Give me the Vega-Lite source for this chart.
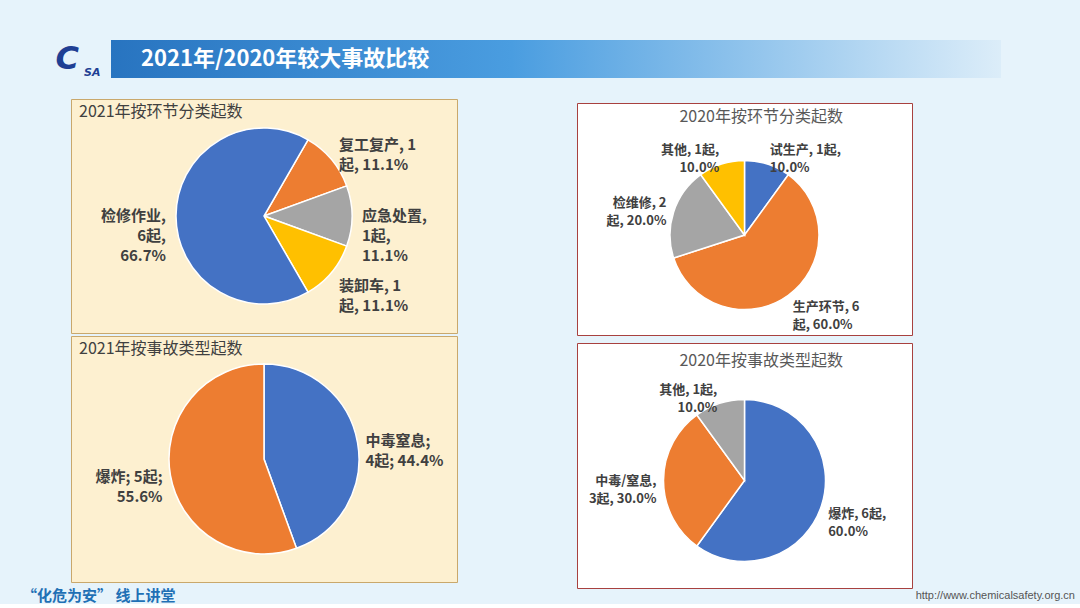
{
  "$schema": "https://vega.github.io/schema/vega-lite/v6.json",
  "background": "#e6f3fb",
  "padding": {"left": 22, "top": 40, "right": 0, "bottom": 0},
  "config": {"view": {"stroke": null}, "font": "Noto Sans CJK SC"},
  "spacing": 20,
  "resolve": {"scale": {"color": "independent", "theta": "independent", "x": "independent", "y": "independent"}},
  "vconcat": [
    {
      "hconcat": [
        {
          "width": 78, "height": 38,
          "data": {"values": [{"c": "C", "s": "SA"}]},
          "layer": [
            {"mark": {"type": "text", "fontSize": 32, "fontWeight": "bold", "fontStyle": "italic", "color": "#1f3f94", "align": "center", "baseline": "middle", "font": "DejaVu Sans"},
             "encoding": {"text": {"field": "c"}, "x": {"datum": 0.58, "scale": {"domain": [0, 1]}, "axis": null}, "y": {"datum": 0.5, "scale": {"domain": [0, 1]}, "axis": null}}},
            {"mark": {"type": "text", "fontSize": 11, "fontWeight": "bold", "fontStyle": "italic", "color": "#1f3f94", "align": "center", "baseline": "bottom", "font": "DejaVu Sans"},
             "encoding": {"text": {"field": "s"}, "x": {"datum": 0.9, "scale": {"domain": [0, 1]}, "axis": null}, "y": {"datum": 0, "scale": {"domain": [0, 1]}, "axis": null}}}
          ]
        },
        {
          "width": 890, "height": 38,
          "data": {"values": [{"t": "2021年/2020年较大事故比较"}]},
          "layer": [
            {"mark": {"type": "rect", "color": {"gradient": "linear", "x1": 0, "x2": 1, "y1": 0, "y2": 0, "stops": [{"offset": 0, "color": "#2874c0"}, {"offset": 0.45, "color": "#4a9de0"}, {"offset": 1, "color": "#dcedf9"}]}}, "encoding": {}},
            {"mark": {"type": "text", "fontSize": 22, "fontWeight": "bold", "color": "white", "align": "left", "baseline": "middle", "dx": 30},
             "encoding": {"text": {"field": "t"}, "x": {"datum": 0, "scale": {"domain": [0, 1]}, "axis": null}, "y": {"datum": 0.5, "scale": {"domain": [0, 1]}, "axis": null}}}
          ]
        }
      ],
      "spacing": 10,
      "resolve": {"scale": {"x": "independent", "y": "independent"}}
    },
    {
      "spacing": 0,
      "resolve": {"scale": {"color": "independent", "theta": "independent", "x": "independent", "y": "independent"}},
      "vconcat": [
        {
          "spacing": 0,
          "resolve": {"scale": {"color": "independent", "theta": "independent", "x": "independent", "y": "independent"}},
          "hconcat": [
            {"width": 48, "height": 1, "data": {"values": [{}]}, "mark": {"type": "rect", "opacity": 0}, "encoding": {}},
            {
              "spacing": 1,
              "resolve": {"scale": {"color": "independent", "theta": "independent", "x": "independent", "y": "independent"}},
              "vconcat": [
                {
                  "width": 386, "height": 234,
                  "view": {"fill": "#fdf0d0", "stroke": "#c9a86c", "strokeWidth": 1},
                  "data": {"values": [
                    {"category": "复工复产", "count": 1, "label": "复工复产, 1\n起, 11.1%", "order": 1},
                    {"category": "应急处置", "count": 1, "label": "应急处置,\n1起,\n11.1%", "order": 2},
                    {"category": "装卸车", "count": 1, "label": "装卸车, 1\n起, 11.1%", "order": 3},
                    {"category": "检修作业", "count": 6, "label": "检修作业,\n6起,\n66.7%", "order": 4}
                  ]},
                  "encoding": {
                    "theta": {"field": "count", "type": "quantitative", "stack": true, "scale": {"range": [0.5236, 6.8068]}},
                    "order": {"field": "order", "type": "quantitative"}
                  },
                  "layer": [
                    {"mark": {"type": "arc", "outerRadius": 88, "stroke": "white", "strokeWidth": 1.5},
                     "encoding": {"color": {"field": "category", "type": "nominal", "legend": null, "scale": {"domain": ["复工复产", "应急处置", "装卸车", "检修作业"], "range": ["#ED7D31", "#A5A5A5", "#FFC000", "#4472C4"]}}}},
                    {"mark": {"type": "text", "radius": 98, "fontSize": 15, "fontWeight": "bold", "color": "#404040", "lineBreak": "\n", "lineHeight": 20,
                              "align": {"expr": "sin(PI/6 + PI*(datum.count_start+datum.count_end)/9) > 0.3 ? 'left' : (sin(PI/6 + PI*(datum.count_start+datum.count_end)/9) < -0.3 ? 'right' : 'center')"},
                              "baseline": {"expr": "cos(PI/6 + PI*(datum.count_start+datum.count_end)/9) > 0.3 ? 'bottom' : (cos(PI/6 + PI*(datum.count_start+datum.count_end)/9) < -0.3 ? 'top' : 'middle')"}},
                     "encoding": {"text": {"field": "label"}, "detail": {"field": "category"}}},
                    {"data": {"values": [{"t": "2021年按环节分类起数"}]},
                     "mark": {"type": "text", "fontSize": 16, "color": "#404040", "align": "left", "baseline": "top", "dx": 8, "dy": 5},
                     "encoding": {"text": {"field": "t"}, "theta": null, "order": null, "x": {"datum": 0, "scale": {"domain": [0, 1]}, "axis": null}, "y": {"datum": 1, "scale": {"domain": [0, 1]}, "axis": null}}}
                  ]
                },
                {
                  "width": 386, "height": 246,
                  "view": {"fill": "#fdf0d0", "stroke": "#c9a86c", "strokeWidth": 1},
                  "data": {"values": [
                    {"category": "中毒窒息", "count": 4, "label": "中毒窒息;\n4起; 44.4%", "order": 1},
                    {"category": "爆炸", "count": 5, "label": "爆炸; 5起;\n55.6%", "order": 2}
                  ]},
                  "encoding": {
                    "theta": {"field": "count", "type": "quantitative", "stack": true},
                    "order": {"field": "order", "type": "quantitative"}
                  },
                  "layer": [
                    {"mark": {"type": "arc", "outerRadius": 95, "stroke": "white", "strokeWidth": 1.5},
                     "encoding": {"color": {"field": "category", "type": "nominal", "legend": null, "scale": {"domain": ["中毒窒息", "爆炸"], "range": ["#4472C4", "#ED7D31"]}}}},
                    {"mark": {"type": "text", "radius": 103, "fontSize": 15, "fontWeight": "bold", "color": "#404040", "lineBreak": "\n", "lineHeight": 20,
                              "align": {"expr": "sin(PI*(datum.count_start+datum.count_end)/9) > 0.3 ? 'left' : (sin(PI*(datum.count_start+datum.count_end)/9) < -0.3 ? 'right' : 'center')"},
                              "baseline": {"expr": "cos(PI*(datum.count_start+datum.count_end)/9) > 0.3 ? 'bottom' : (cos(PI*(datum.count_start+datum.count_end)/9) < -0.3 ? 'top' : 'middle')"}},
                     "encoding": {"text": {"field": "label"}, "detail": {"field": "category"}}},
                    {"data": {"values": [{"t": "2021年按事故类型起数"}]},
                     "mark": {"type": "text", "fontSize": 16, "color": "#404040", "align": "left", "baseline": "top", "dx": 8, "dy": 5},
                     "encoding": {"text": {"field": "t"}, "theta": null, "order": null, "x": {"datum": 0, "scale": {"domain": [0, 1]}, "axis": null}, "y": {"datum": 1, "scale": {"domain": [0, 1]}, "axis": null}}}
                  ]
                }
              ]
            },
            {"width": 118, "height": 1, "data": {"values": [{}]}, "mark": {"type": "rect", "opacity": 0}, "encoding": {}},
            {
              "spacing": 0,
              "resolve": {"scale": {"color": "independent", "theta": "independent", "x": "independent", "y": "independent"}},
              "vconcat": [
                {"width": 1, "height": 3, "data": {"values": [{}]}, "mark": {"type": "rect", "opacity": 0}, "encoding": {}},
                {
                  "width": 335, "height": 232,
                  "view": {"fill": "white", "stroke": "#a8413f", "strokeWidth": 1},
                  "data": {"values": [
                    {"category": "试生产", "count": 1, "label": "试生产, 1起,\n10.0%", "order": 1},
                    {"category": "生产环节", "count": 6, "label": "生产环节, 6\n起, 60.0%", "order": 2},
                    {"category": "检维修", "count": 2, "label": "检维修, 2\n起, 20.0%", "order": 3},
                    {"category": "其他", "count": 1, "label": "其他, 1起,\n10.0%", "order": 4}
                  ]},
                  "encoding": {
                    "theta": {"field": "count", "type": "quantitative", "stack": true},
                    "order": {"field": "order", "type": "quantitative"}
                  },
                  "layer": [
                    {"mark": {"type": "arc", "outerRadius": 74.5, "stroke": "white", "strokeWidth": 1.5, "yOffset": 16},
                     "encoding": {"color": {"field": "category", "type": "nominal", "legend": null, "scale": {"domain": ["试生产", "生产环节", "检维修", "其他"], "range": ["#4472C4", "#ED7D31", "#A5A5A5", "#FFC000"]}}}},
                    {"mark": {"type": "text", "radius": 82, "yOffset": 16, "fontSize": 13, "fontWeight": "bold", "color": "#404040", "lineBreak": "\n", "lineHeight": 18,
                              "align": {"expr": "sin(PI*(datum.count_start+datum.count_end)/10) > 0.3 ? 'left' : (sin(PI*(datum.count_start+datum.count_end)/10) < -0.3 ? 'right' : 'center')"},
                              "baseline": {"expr": "cos(PI*(datum.count_start+datum.count_end)/10) > 0.3 ? 'bottom' : (cos(PI*(datum.count_start+datum.count_end)/10) < -0.3 ? 'top' : 'middle')"}},
                     "encoding": {"text": {"field": "label"}, "detail": {"field": "category"}}},
                    {"data": {"values": [{"t": "2020年按环节分类起数"}]},
                     "mark": {"type": "text", "fontSize": 16, "color": "#595959", "align": "center", "baseline": "top", "dy": 6},
                     "encoding": {"text": {"field": "t"}, "theta": null, "order": null, "x": {"datum": 0.55, "scale": {"domain": [0, 1]}, "axis": null}, "y": {"datum": 1, "scale": {"domain": [0, 1]}, "axis": null}}}
                  ]
                },
                {"width": 1, "height": 6, "data": {"values": [{}]}, "mark": {"type": "rect", "opacity": 0}, "encoding": {}},
                {
                  "width": 335, "height": 245,
                  "view": {"fill": "white", "stroke": "#a8413f", "strokeWidth": 1},
                  "data": {"values": [
                    {"category": "爆炸", "count": 6, "label": "爆炸, 6起,\n60.0%", "order": 1},
                    {"category": "中毒/窒息", "count": 3, "label": "中毒/窒息,\n3起, 30.0%", "order": 2},
                    {"category": "其他", "count": 1, "label": "其他, 1起,\n10.0%", "order": 3}
                  ]},
                  "encoding": {
                    "theta": {"field": "count", "type": "quantitative", "stack": true},
                    "order": {"field": "order", "type": "quantitative"}
                  },
                  "layer": [
                    {"mark": {"type": "arc", "outerRadius": 81, "stroke": "white", "strokeWidth": 1.5, "yOffset": 15},
                     "encoding": {"color": {"field": "category", "type": "nominal", "legend": null, "scale": {"domain": ["爆炸", "中毒/窒息", "其他"], "range": ["#4472C4", "#ED7D31", "#A5A5A5"]}}}},
                    {"mark": {"type": "text", "radius": 88, "yOffset": 15, "fontSize": 13, "fontWeight": "bold", "color": "#404040", "lineBreak": "\n", "lineHeight": 18,
                              "align": {"expr": "sin(PI*(datum.count_start+datum.count_end)/10) > 0.3 ? 'left' : (sin(PI*(datum.count_start+datum.count_end)/10) < -0.3 ? 'right' : 'center')"},
                              "baseline": {"expr": "cos(PI*(datum.count_start+datum.count_end)/10) > 0.3 ? 'bottom' : (cos(PI*(datum.count_start+datum.count_end)/10) < -0.3 ? 'top' : 'middle')"}},
                     "encoding": {"text": {"field": "label"}, "detail": {"field": "category"}}},
                    {"data": {"values": [{"t": "2020年按事故类型起数"}]},
                     "mark": {"type": "text", "fontSize": 16, "color": "#595959", "align": "center", "baseline": "top", "dy": 10},
                     "encoding": {"text": {"field": "t"}, "theta": null, "order": null, "x": {"datum": 0.55, "scale": {"domain": [0, 1]}, "axis": null}, "y": {"datum": 1, "scale": {"domain": [0, 1]}, "axis": null}}}
                  ]
                }
              ]
            }
          ]
        },
        {
          "width": 1058, "height": 12,
          "data": {"values": [{"a": "“化危为安” 线上讲堂", "b": "http://www.chemicalsafety.org.cn"}]},
          "layer": [
            {"mark": {"type": "text", "fontSize": 15, "fontWeight": "bold", "color": "#1f70b5", "align": "left", "baseline": "middle"},
             "encoding": {"text": {"field": "a"}, "x": {"datum": 0, "scale": {"domain": [0, 1]}, "axis": null}, "y": {"datum": 0.5, "scale": {"domain": [0, 1]}, "axis": null}}},
            {"mark": {"type": "text", "fontSize": 11, "color": "#555555", "align": "right", "baseline": "middle", "dx": -5, "font": "Liberation Sans"},
             "encoding": {"text": {"field": "b"}, "x": {"datum": 1, "scale": {"domain": [0, 1]}, "axis": null}, "y": {"datum": 0.5, "scale": {"domain": [0, 1]}, "axis": null}}}
          ]
        }
      ]
    }
  ]
}
